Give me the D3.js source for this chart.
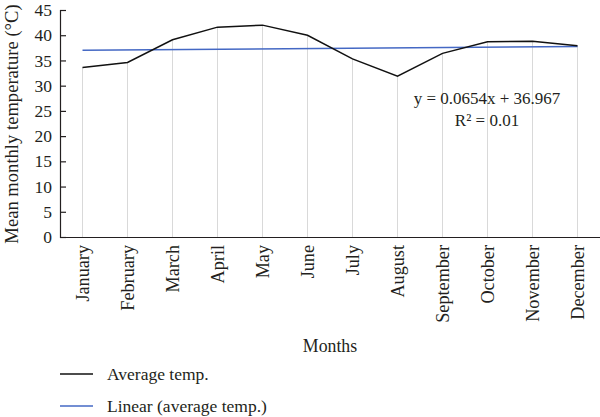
<!DOCTYPE html>
<html><head><meta charset="utf-8">
<script src="https://cdn.jsdelivr.net/npm/d3@7"></script>
<style>body{margin:0;background:#fff}svg{display:block}text{font-family:"Liberation Serif","Times New Roman",serif;fill:#231f20}</style>
</head><body><svg id="c" width="600" height="417"></svg>
<script>
const months = ["January","February","March","April","May","June","July","August","September","October","November","December"];
const avgTemp = [33.6,34.6,39.1,41.6,42.0,40.0,35.3,31.9,36.4,38.7,38.8,37.9];
const trendSlope = 0.0654, trendIntercept = 36.967;
const yTicks = [0,5,10,15,20,25,30,35,40,45];
const equationText = "y = 0.0654x + 36.967";
const r2Text = "R² = 0.01";
const legendLabels = ["Average temp.","Linear (average temp.)"];

const svg = d3.select("#c");
const x = d3.scaleBand().domain(months).range([60,600]).padding(0);
const cx = m => x(m) + x.bandwidth()/2;
const y = d3.scaleLinear().domain([0,45]).range([237,10]);

// drop lines
svg.append("g").selectAll("line").data(months).join("line")
  .attr("x1", d=>cx(d)).attr("x2", d=>cx(d))
  .attr("y1", (d,i)=>y(avgTemp[i])).attr("y2", y(0))
  .attr("stroke","#d9d9d9").attr("stroke-width",1);

// axes
const ya = svg.append("g").attr("transform","translate(60,0)")
  .call(d3.axisLeft(y).tickValues(yTicks).tickSize(-6).tickPadding(8));
ya.select(".domain").attr("stroke","#231f20").attr("stroke-width",1.2);
ya.selectAll(".tick line").attr("stroke","#231f20").attr("stroke-width",1.2);
ya.selectAll("text").style("font-size","17.5px").style("font-family","Liberation Serif").attr("fill","#231f20");

const xa = svg.append("g").attr("transform","translate(0,237)")
  .call(d3.axisBottom(x).tickSize(0).tickPadding(0));
xa.select(".domain").attr("stroke","#231f20").attr("stroke-width",1.2);
xa.selectAll("text").style("font-size","18.2px").style("font-family","Liberation Serif").attr("fill","#231f20")
  .attr("transform","rotate(-90)").attr("text-anchor","end").attr("dy","0.33em")
  .attr("x",-8).attr("y",0);

// trend line
const trendPts = [1,12].map(n => [cx(months[n-1]), y(trendIntercept + trendSlope*n)]);
svg.append("path").attr("d", d3.line()(trendPts)).attr("fill","none")
  .attr("stroke","#4468c4").attr("stroke-width",1.5);

// data line
svg.append("path").datum(avgTemp)
  .attr("d", d3.line().x((d,i)=>cx(months[i])).y(d=>y(d)))
  .attr("fill","none").attr("stroke","#111").attr("stroke-width",1.5);

// equation
svg.append("text").attr("x",487).attr("y",104).attr("text-anchor","middle").style("font-size","17px").text(equationText);
svg.append("text").attr("x",487).attr("y",126).attr("text-anchor","middle").style("font-size","17px").text(r2Text);

// axis titles
svg.append("text").attr("transform","translate(18,124) rotate(-90)").attr("text-anchor","middle")
  .style("font-size","18.6px").text("Mean monthly temperature (°C)");
svg.append("text").attr("x",330).attr("y",352).attr("text-anchor","middle").style("font-size","17.8px").text("Months");

// legend
const legColors = ["#111","#4468c4"];
const legY = [374,406];
legendLabels.forEach((t,i)=>{
  svg.append("line").attr("x1",60).attr("x2",93).attr("y1",legY[i]).attr("y2",legY[i])
    .attr("stroke",legColors[i]).attr("stroke-width",1.5);
  svg.append("text").attr("x",107).attr("y",legY[i]+6).style("font-size","17.5px").text(t);
});
</script></body></html>
